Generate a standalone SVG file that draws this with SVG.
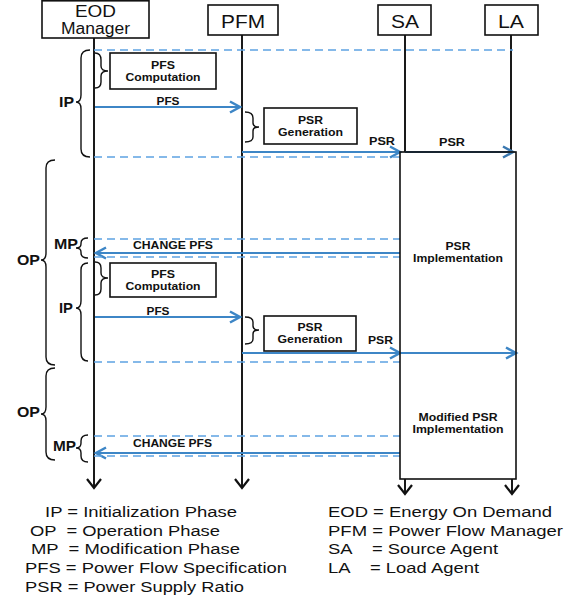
<svg xmlns="http://www.w3.org/2000/svg" width="580" height="601" viewBox="0 0 580 601">
<style>
.bx{fill:#fff;stroke:#111;stroke-width:1.6}
.ll{stroke:#1a1a1a;stroke-width:2;fill:none}
.br{fill:none;stroke:#111;stroke-width:1.4}
.ds{stroke:#5ea3e2;stroke-width:1.5;stroke-dasharray:8,5;fill:none}
.ar{stroke:#3d86c6;stroke-width:2;fill:none}
.ar2{stroke:#3a78b0;stroke-width:2;fill:none}
.hd{font-family:"Liberation Sans",Arial,sans-serif;fill:#111;text-anchor:middle}
.sm{font-family:"Liberation Sans",Arial,sans-serif;font-weight:bold;font-size:11px;fill:#111;text-anchor:middle}
.ph{font-family:"Liberation Sans",Arial,sans-serif;font-weight:bold;font-size:15px;fill:#111}
.lg{font-family:"Liberation Sans",Arial,sans-serif;font-size:14px;fill:#111;white-space:pre}
</style>
<defs>
<marker id="ab" markerWidth="14" markerHeight="14" refX="11" refY="7" orient="auto" markerUnits="userSpaceOnUse" overflow="visible"><path d="M1,1.5 L11,7 L1,12.5" fill="none" stroke="#3d86c6" stroke-width="2.5"/></marker>
<marker id="ab2" markerWidth="14" markerHeight="14" refX="11" refY="7" orient="auto" markerUnits="userSpaceOnUse" overflow="visible"><path d="M1,1.5 L11,7 L1,12.5" fill="none" stroke="#3a78b0" stroke-width="2.5"/></marker>
<marker id="ak" markerWidth="16" markerHeight="16" refX="10" refY="7" orient="auto" markerUnits="userSpaceOnUse" overflow="visible"><path d="M1,0 L10,7 L1,14" fill="none" stroke="#111" stroke-width="2.2"/></marker>
</defs>
<rect width="580" height="601" fill="#fff"/>

<g id="lifelines">
<line class="ll" x1="94" y1="38" x2="94" y2="488" marker-end="url(#ak)"/>
<line class="ll" x1="242" y1="35" x2="242" y2="488" marker-end="url(#ak)"/>
<line class="ll" x1="405" y1="35" x2="405" y2="152"/>
<line class="ll" x1="511" y1="35" x2="511" y2="152"/>
<line class="ll" x1="405" y1="479" x2="405" y2="494" marker-end="url(#ak)"/>
<line class="ll" x1="512" y1="479" x2="512" y2="494" marker-end="url(#ak)"/>
</g>

<g id="eod">
<rect class="bx" x="42" y="0.8" width="107" height="37.2"/>
<text class="hd" x="95.5" y="17" font-size="16" textLength="41" lengthAdjust="spacingAndGlyphs">EOD</text>
<text class="hd" x="95.5" y="34" font-size="16" textLength="69" lengthAdjust="spacingAndGlyphs">Manager</text>
</g>
<g id="pfm">
<rect class="bx" x="208" y="5" width="70" height="30"/>
<text class="hd" x="243" y="28" font-size="18" textLength="44" lengthAdjust="spacingAndGlyphs">PFM</text>
</g>
<g id="sa">
<rect class="bx" x="378" y="5" width="53" height="30"/>
<text class="hd" x="405" y="28" font-size="18" textLength="28" lengthAdjust="spacingAndGlyphs">SA</text>
</g>
<g id="la">
<rect class="bx" x="485" y="5" width="53" height="30"/>
<text class="hd" x="511" y="28" font-size="18" textLength="26" lengthAdjust="spacingAndGlyphs">LA</text>
</g>

<g id="connectors">
<line class="ds" x1="94" y1="50" x2="513" y2="50"/>
<line class="ar" x1="95" y1="107" x2="240" y2="107" marker-end="url(#ab)"/>
<line class="ar" x1="242" y1="152" x2="400" y2="152" marker-end="url(#ab)"/>
<line class="ar2" x1="405" y1="152" x2="513" y2="152" marker-end="url(#ab2)"/>
<line class="ds" x1="94" y1="157" x2="400" y2="157"/>
<line class="ds" x1="94" y1="239" x2="400" y2="239"/>
<line class="ar" x1="400" y1="253" x2="96" y2="253" marker-end="url(#ab)"/>
<line class="ds" x1="94" y1="257" x2="400" y2="257"/>
<line class="ar" x1="95" y1="317" x2="240" y2="317" marker-end="url(#ab)"/>
<line class="ar" x1="242" y1="353" x2="400" y2="353" marker-end="url(#ab)"/>
<line class="ar" x1="400" y1="353" x2="516" y2="353" marker-end="url(#ab)"/>
<line class="ds" x1="94" y1="362" x2="400" y2="362"/>
<line class="ds" x1="94" y1="436" x2="400" y2="436"/>
<line class="ar" x1="400" y1="453" x2="96" y2="453" marker-end="url(#ab)"/>
<line class="ds" x1="94" y1="456" x2="400" y2="456"/>
<text class="sm" x="168" y="105" textLength="23" lengthAdjust="spacingAndGlyphs">PFS</text>
<text class="sm" x="382" y="145" textLength="26" lengthAdjust="spacingAndGlyphs">PSR</text>
<text class="sm" x="452" y="146" textLength="26" lengthAdjust="spacingAndGlyphs">PSR</text>
<text class="sm" x="173" y="249" textLength="80" lengthAdjust="spacingAndGlyphs">CHANGE PFS</text>
<text class="sm" x="158" y="315" textLength="23" lengthAdjust="spacingAndGlyphs">PFS</text>
<text class="sm" x="380.5" y="344" textLength="25" lengthAdjust="spacingAndGlyphs">PSR</text>
<text class="sm" x="172.5" y="447" textLength="79" lengthAdjust="spacingAndGlyphs">CHANGE PFS</text>
</g>

<g id="pfs-computation-1">
<rect class="bx" x="110" y="53" width="106" height="36" stroke-width="1.4"/>
<text class="sm" x="163" y="69" textLength="24" lengthAdjust="spacingAndGlyphs">PFS</text>
<text class="sm" x="163" y="81" textLength="75" lengthAdjust="spacingAndGlyphs">Computation</text>
</g>
<g id="psr-generation-1">
<rect class="bx" x="264" y="108" width="93" height="36" stroke-width="1.4"/>
<text class="sm" x="310.5" y="124" textLength="25" lengthAdjust="spacingAndGlyphs">PSR</text>
<text class="sm" x="310.5" y="136" textLength="65" lengthAdjust="spacingAndGlyphs">Generation</text>
</g>
<g id="pfs-computation-2">
<rect class="bx" x="110" y="263" width="106" height="34" stroke-width="1.4"/>
<text class="sm" x="163" y="278" textLength="24" lengthAdjust="spacingAndGlyphs">PFS</text>
<text class="sm" x="163" y="290" textLength="75" lengthAdjust="spacingAndGlyphs">Computation</text>
</g>
<g id="psr-generation-2">
<rect class="bx" x="264" y="316" width="92" height="35" stroke-width="1.4"/>
<text class="sm" x="310" y="331" textLength="25" lengthAdjust="spacingAndGlyphs">PSR</text>
<text class="sm" x="310" y="343" textLength="65" lengthAdjust="spacingAndGlyphs">Generation</text>
</g>
<g id="sa-la-implementation">
<rect class="bx" x="400" y="152" width="116" height="327" fill="none" style="fill:none"/>
<text class="sm" x="458" y="250" textLength="25" lengthAdjust="spacingAndGlyphs">PSR</text>
<text class="sm" x="458" y="262" textLength="90" lengthAdjust="spacingAndGlyphs">Implementation</text>
<text class="sm" x="458" y="421" textLength="79" lengthAdjust="spacingAndGlyphs">Modified PSR</text>
<text class="sm" x="458" y="433" textLength="91" lengthAdjust="spacingAndGlyphs">Implementation</text>
</g>

<g id="phases">
<path class="br" d="M90,50 Q81,50 81,58 L81,95 Q81,102 76,102 Q81,102 81,109 L81,149 Q81,157 90,157"/>
<path class="br" d="M95,53 Q101,53 101,60 L101,66 Q101,71 108,71 Q101,71 101,76 L101,82 Q101,88 95,88"/>
<path class="br" d="M245,112 Q253,112 253,118 L253,123 Q253,127 259,127 Q253,127 253,131 L253,137 Q253,142 245,142"/>
<path class="br" d="M55,160 Q46,160 46,168 L46,253 Q46,260 41,260 Q46,260 46,267 L46,357 Q46,365 55,365"/>
<path class="br" d="M88,238 Q81,238 81,243 L81,244 Q81,248 76,248 Q81,248 81,252 L81,253 Q81,258 88,258"/>
<path class="br" d="M88,263 Q81,263 81,270 L81,301 Q81,308 76,308 Q81,308 81,315 L81,353 Q81,361 88,361"/>
<path class="br" d="M95,262 Q101,262 101,268 L101,273 Q101,278 108,278 Q101,278 101,283 L101,289 Q101,295 95,295"/>
<path class="br" d="M245,317 Q253,317 253,322 L253,326 Q253,330 259,330 Q253,330 253,334 L253,339 Q253,344 245,344"/>
<path class="br" d="M55,368 Q46,368 46,376 L46,407 Q46,414 41,414 Q46,414 46,421 L46,452 Q46,460 55,460"/>
<path class="br" d="M88,435 Q81,435 81,441 L81,443 Q81,448 76,448 Q81,448 81,453 L81,456 Q81,462 88,462"/>
<text class="ph" x="59" y="107" textLength="15" lengthAdjust="spacingAndGlyphs">IP</text>
<text class="ph" x="17" y="265" textLength="23" lengthAdjust="spacingAndGlyphs">OP</text>
<text class="ph" x="54" y="249" textLength="24" lengthAdjust="spacingAndGlyphs">MP</text>
<text class="ph" x="59" y="313" textLength="14" lengthAdjust="spacingAndGlyphs">IP</text>
<text class="ph" x="17" y="417" textLength="23" lengthAdjust="spacingAndGlyphs">OP</text>
<text class="ph" x="53" y="451" textLength="23" lengthAdjust="spacingAndGlyphs">MP</text>
</g>

<g id="legend">
<text class="lg" xml:space="preserve" x="45" y="517" textLength="192" lengthAdjust="spacingAndGlyphs">IP = Initialization Phase</text>
<text class="lg" xml:space="preserve" x="30" y="536" textLength="190" lengthAdjust="spacingAndGlyphs">OP  = Operation Phase</text>
<text class="lg" xml:space="preserve" x="31" y="554" textLength="209" lengthAdjust="spacingAndGlyphs">MP  = Modification Phase</text>
<text class="lg" xml:space="preserve" x="25" y="573" textLength="262" lengthAdjust="spacingAndGlyphs">PFS = Power Flow Specification</text>
<text class="lg" xml:space="preserve" x="25" y="592" textLength="219" lengthAdjust="spacingAndGlyphs">PSR = Power Supply Ratio</text>
<text class="lg" xml:space="preserve" x="328" y="517" textLength="224" lengthAdjust="spacingAndGlyphs">EOD = Energy On Demand</text>
<text class="lg" xml:space="preserve" x="328" y="536" textLength="235" lengthAdjust="spacingAndGlyphs">PFM = Power Flow Manager</text>
<text class="lg" xml:space="preserve" x="328" y="554" textLength="170" lengthAdjust="spacingAndGlyphs">SA    = Source Agent</text>
<text class="lg" xml:space="preserve" x="328" y="573" textLength="151" lengthAdjust="spacingAndGlyphs">LA    = Load Agent</text>
</g>
</svg>
